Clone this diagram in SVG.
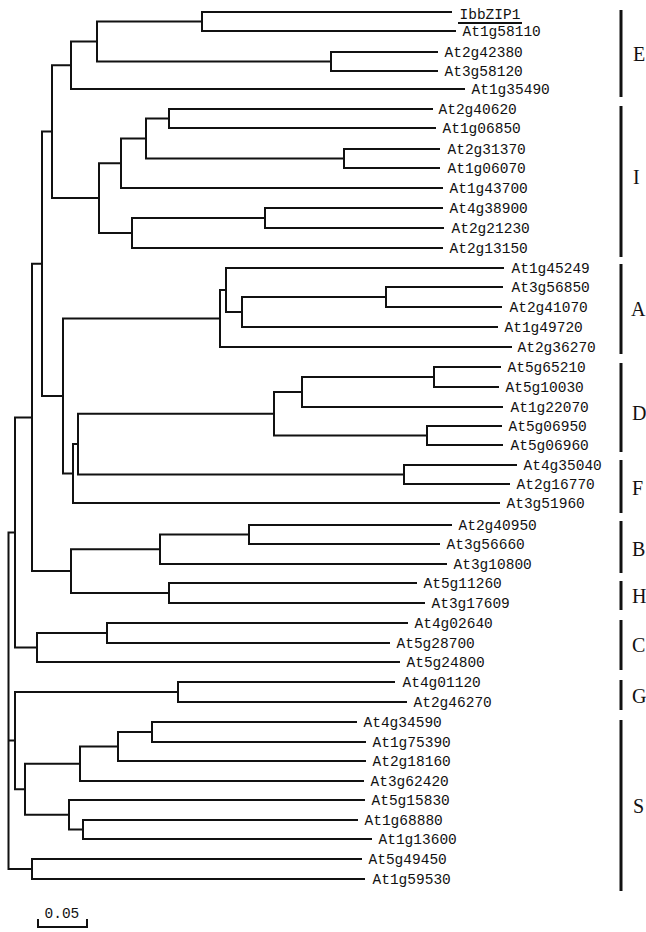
<svg xmlns="http://www.w3.org/2000/svg" width="646" height="932" viewBox="0 0 646 932">
<style>
.br{fill:none;stroke:#111;stroke-width:2;stroke-linejoin:miter}
.bar{stroke:#111;stroke-width:3}
.lf{font-family:"Liberation Mono","Courier New",monospace;font-size:14.5px;fill:#111}
.gl{font-family:"Liberation Serif","Times New Roman",serif;font-size:20px;fill:#111}
</style>
<rect width="646" height="932" fill="#fff"/>
<g id="connectors">
<path class="br" d="M452,12 H202 V31 H456"/>
<path class="br" d="M438,52 H331 V71 H438"/>
<path class="br" d="M202,21.5 H97 V61.5 H331"/>
<path class="br" d="M97,41.5 H71 V89 H465"/>
<path class="br" d="M71,65.25 H52 V198 H99"/>
<path class="br" d="M121,163.25 H99 V233 H132"/>
<path class="br" d="M146,138.5 H121 V188 H443"/>
<path class="br" d="M169,118.5 H146 V158.5 H344"/>
<path class="br" d="M433,109 H169 V128 H436"/>
<path class="br" d="M440,149 H344 V168 H440"/>
<path class="br" d="M265,218 H132 V248 H443"/>
<path class="br" d="M443,208 H265 V228 H444"/>
<path class="br" d="M52,131.6 H42 V396 H63"/>
<path class="br" d="M220,318.5 H63 V473.5 H73"/>
<path class="br" d="M226,290 H220 V347 H512"/>
<path class="br" d="M504,268 H226 V312 H242"/>
<path class="br" d="M386,297 H242 V327 H498"/>
<path class="br" d="M503,287 H386 V307 H502"/>
<path class="br" d="M78,444 H73 V503 H500"/>
<path class="br" d="M274,413.75 H78 V474.5 H404"/>
<path class="br" d="M302,392 H274 V435.5 H427"/>
<path class="br" d="M434,377 H302 V407 H503"/>
<path class="br" d="M501,367 H434 V387 H499"/>
<path class="br" d="M502,426 H427 V445 H503"/>
<path class="br" d="M517,465 H404 V484 H510"/>
<path class="br" d="M42,263.8 H32 V571 H71"/>
<path class="br" d="M160,549.25 H71 V593 H169"/>
<path class="br" d="M249,534.5 H160 V564 H447"/>
<path class="br" d="M452,525 H249 V544 H440"/>
<path class="br" d="M417,583 H169 V603 H425"/>
<path class="br" d="M32,417.4 H15 V647.5 H37"/>
<path class="br" d="M107,633 H37 V662 H400"/>
<path class="br" d="M408,623 H107 V643 H390"/>
<path class="br" d="M178,692 H15 V789.25 H25"/>
<path class="br" d="M395,682 H178 V702 H407"/>
<path class="br" d="M80,763.75 H25 V814.75 H69"/>
<path class="br" d="M118,746.5 H80 V781 H364"/>
<path class="br" d="M152,732 H118 V761 H366"/>
<path class="br" d="M357,722 H152 V742 H366"/>
<path class="br" d="M365,800 H69 V829.5 H83"/>
<path class="br" d="M358,820 H83 V839 H372"/>
<path class="br" d="M362,859 H32 V879 H365"/>
<path class="br" d="M15,532.5 H8.5 V869 H32 M8.5,740.6 H15"/>
</g>
<g id="leaves">
<g id="IbbZIP1"><text class="lf" x="459.5" y="19">IbbZIP1</text><line x1="458" y1="23" x2="522" y2="23" stroke="#111" stroke-width="2"/></g>
<g id="At1g58110"><text class="lf" x="462.5" y="36">At1g58110</text></g>
<g id="At2g42380"><text class="lf" x="444.5" y="57">At2g42380</text></g>
<g id="At3g58120"><text class="lf" x="444.5" y="76">At3g58120</text></g>
<g id="At1g35490"><text class="lf" x="471.5" y="94">At1g35490</text></g>
<g id="At2g40620"><text class="lf" x="438.5" y="114">At2g40620</text></g>
<g id="At1g06850"><text class="lf" x="442.5" y="133">At1g06850</text></g>
<g id="At2g31370"><text class="lf" x="447.5" y="154">At2g31370</text></g>
<g id="At1g06070"><text class="lf" x="447.5" y="173">At1g06070</text></g>
<g id="At1g43700"><text class="lf" x="449.5" y="193">At1g43700</text></g>
<g id="At4g38900"><text class="lf" x="449.5" y="213">At4g38900</text></g>
<g id="At2g21230"><text class="lf" x="451.5" y="233">At2g21230</text></g>
<g id="At2g13150"><text class="lf" x="449.5" y="253">At2g13150</text></g>
<g id="At1g45249"><text class="lf" x="511.5" y="273">At1g45249</text></g>
<g id="At3g56850"><text class="lf" x="511.5" y="292">At3g56850</text></g>
<g id="At2g41070"><text class="lf" x="509.5" y="312">At2g41070</text></g>
<g id="At1g49720"><text class="lf" x="504.5" y="332">At1g49720</text></g>
<g id="At2g36270"><text class="lf" x="517.5" y="352">At2g36270</text></g>
<g id="At5g65210"><text class="lf" x="507.5" y="372">At5g65210</text></g>
<g id="At5g10030"><text class="lf" x="505.5" y="392">At5g10030</text></g>
<g id="At1g22070"><text class="lf" x="510.5" y="412">At1g22070</text></g>
<g id="At5g06950"><text class="lf" x="508.5" y="431">At5g06950</text></g>
<g id="At5g06960"><text class="lf" x="510.5" y="450">At5g06960</text></g>
<g id="At4g35040"><text class="lf" x="523.5" y="470">At4g35040</text></g>
<g id="At2g16770"><text class="lf" x="516.5" y="489">At2g16770</text></g>
<g id="At3g51960"><text class="lf" x="506.5" y="508">At3g51960</text></g>
<g id="At2g40950"><text class="lf" x="458.5" y="530">At2g40950</text></g>
<g id="At3g56660"><text class="lf" x="446.5" y="549">At3g56660</text></g>
<g id="At3g10800"><text class="lf" x="453.5" y="569">At3g10800</text></g>
<g id="At5g11260"><text class="lf" x="423.5" y="588">At5g11260</text></g>
<g id="At3g17609"><text class="lf" x="431.5" y="608">At3g17609</text></g>
<g id="At4g02640"><text class="lf" x="414.5" y="628">At4g02640</text></g>
<g id="At5g28700"><text class="lf" x="396.5" y="648">At5g28700</text></g>
<g id="At5g24800"><text class="lf" x="406.5" y="667">At5g24800</text></g>
<g id="At4g01120"><text class="lf" x="402.5" y="687">At4g01120</text></g>
<g id="At2g46270"><text class="lf" x="413.5" y="707">At2g46270</text></g>
<g id="At4g34590"><text class="lf" x="363.5" y="727">At4g34590</text></g>
<g id="At1g75390"><text class="lf" x="372.5" y="747">At1g75390</text></g>
<g id="At2g18160"><text class="lf" x="372.5" y="766">At2g18160</text></g>
<g id="At3g62420"><text class="lf" x="370.5" y="786">At3g62420</text></g>
<g id="At5g15830"><text class="lf" x="371.5" y="805">At5g15830</text></g>
<g id="At1g68880"><text class="lf" x="364.5" y="825">At1g68880</text></g>
<g id="At1g13600"><text class="lf" x="378.5" y="844">At1g13600</text></g>
<g id="At5g49450"><text class="lf" x="368.5" y="864">At5g49450</text></g>
<g id="At1g59530"><text class="lf" x="372.5" y="884">At1g59530</text></g>
</g>
<g id="groups">
<g id="group-E"><line class="bar" x1="621" y1="10" x2="621" y2="97"/><text class="gl" x="633" y="61">E</text></g>
<g id="group-I"><line class="bar" x1="621" y1="106" x2="621" y2="257"/><text class="gl" x="633" y="184">I</text></g>
<g id="group-A"><line class="bar" x1="621" y1="264" x2="621" y2="354"/><text class="gl" x="631" y="316">A</text></g>
<g id="group-D"><line class="bar" x1="621" y1="363" x2="621" y2="452"/><text class="gl" x="632" y="420">D</text></g>
<g id="group-F"><line class="bar" x1="621" y1="460" x2="621" y2="513"/><text class="gl" x="632" y="495">F</text></g>
<g id="group-B"><line class="bar" x1="621" y1="521" x2="621" y2="573"/><text class="gl" x="632" y="556">B</text></g>
<g id="group-H"><line class="bar" x1="621" y1="581" x2="621" y2="610"/><text class="gl" x="632" y="603">H</text></g>
<g id="group-C"><line class="bar" x1="621" y1="620" x2="621" y2="670"/><text class="gl" x="632" y="652">C</text></g>
<g id="group-G"><line class="bar" x1="621" y1="680" x2="621" y2="710"/><text class="gl" x="632" y="703">G</text></g>
<g id="group-S"><line class="bar" x1="621" y1="720" x2="621" y2="891"/><text class="gl" x="633" y="813">S</text></g>
</g>
<g id="scale-bar">
<path class="br" d="M38,919 V927 H87 V919"/>
<text class="lf" x="44.5" y="918">0.05</text>
</g>
</svg>
